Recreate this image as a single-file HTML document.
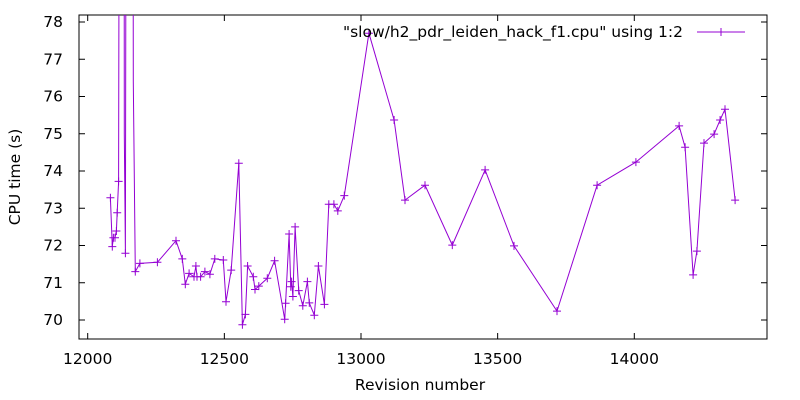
<!DOCTYPE html>
<html><head><meta charset="utf-8"><style>
body{margin:0;background:#fff;}
svg{display:block;font-family:"DejaVu Sans","Liberation Sans",sans-serif;}
</style></head><body>
<svg id="chart" width="800" height="400" viewBox="0 0 800 400" xmlns="http://www.w3.org/2000/svg">
<defs><clipPath id="plotclip"><rect x="79" y="15" width="688" height="324"/></clipPath></defs>
<rect x="79" y="15" width="688" height="324" fill="none" stroke="#000" stroke-width="1"/>
<g id="ticks"></g>
<g id="series" clip-path="url(#plotclip)"></g>
<text x="20" y="177" transform="rotate(-90 20 177)" text-anchor="middle" font-size="15.5">CPU time (s)</text>
<text x="420" y="390" text-anchor="middle" font-size="15.5">Revision number</text>
<g>
<text x="683" y="37" text-anchor="end" font-size="15.5">"slow/h2_pdr_leiden_hack_f1.cpu" using 1:2</text>
<line x1="697" y1="32" x2="745" y2="32" stroke="#9400d3" stroke-width="1"/>
<path d="M717 32h8M721 28v8" stroke="#9400d3" stroke-width="1"/>
</g>
</svg>
<script>
const revisions=[12083,12090,12094,12100,12105,12108,12113,12117,12133,12134,12138,12142,12165,12167,12174,12191,12255,12323,12346,12357,12371,12389,12396,12400,12413,12429,12447,12465,12496,12506,12525,12553,12566,12577,12585,12606,12612,12626,12657,12684,12721,12724,12737,12743,12746,12751,12759,12772,12787,12804,12811,12829,12844,12866,12882,12901,12915,12939,13029,13121,13161,13234,13334,13454,13560,13717,13864,14006,14164,14186,14215,14229,14255,14292,14314,14332,14369];
const cpuTimes=[73.28,71.97,72.21,72.21,72.39,72.88,73.72,90,90,75.0,71.79,90,90,76.4,71.3,71.52,71.55,72.13,71.64,70.96,71.25,71.16,71.45,71.16,71.16,71.30,71.23,71.64,71.61,70.49,71.34,74.21,69.87,70.15,71.45,71.16,70.82,70.91,71.12,71.59,70.02,70.45,72.31,70.89,71.03,70.63,72.50,70.79,70.38,71.03,70.46,70.13,71.45,70.42,73.11,73.11,72.93,73.34,77.7,75.37,73.22,73.62,72.01,74.03,71.99,70.24,73.62,74.24,75.21,74.64,71.21,71.85,74.75,74.99,75.37,75.66,73.22];
const markerless=[7,8,9,11,12,13];
const xTicks=[12000,12500,13000,13500,14000];
const yTicks=[70,71,72,73,74,75,76,77,78];
const NS="http://www.w3.org/2000/svg";
const X0=79,X1=767,Y0=15,Y1=339;
function xs(v){return 87.7+(v-12000)*0.2733;}
function ys(v){return 320-(v-70)*37.25;}
const tg=document.getElementById('ticks');
function mk(tag,attrs,parent){const e=document.createElementNS(NS,tag);for(const k in attrs)e.setAttribute(k,attrs[k]);parent.appendChild(e);return e;}
xTicks.forEach(t=>{
  const x=xs(t);
  const l=mk('path',{d:`M${x} ${Y1}v-6M${x} ${Y0}v6`,stroke:'#000','stroke-width':1},tg);
  
  
  const tx=mk('text',{x:x,y:364,'text-anchor':'middle','font-size':15.5},tg);
  
  
  tx.textContent=t;
});
yTicks.forEach(t=>{
  const y=ys(t);
  const l=mk('path',{d:`M${X0} ${y}h6M${X1} ${y}h-6`,stroke:'#000','stroke-width':1},tg);
  
  
  const tx=mk('text',{x:63,y:y+5,'text-anchor':'end','font-size':15.5},tg);
  
  
  tx.textContent=t;
});
const sg=document.getElementById('series');
const pts=revisions.map((r,i)=>[xs(r),ys(cpuTimes[i])]);
const line=mk('polyline',{points:pts.map(p=>p[0].toFixed(1)+','+p[1].toFixed(1)).join(' '),fill:'none',stroke:'#9400d3','stroke-width':1},sg);


let d='';
pts.forEach((p,i)=>{if(markerless.includes(i))return;d+=`M${(p[0]-4).toFixed(1)} ${p[1].toFixed(1)}h8M${p[0].toFixed(1)} ${(p[1]-4).toFixed(1)}v8`;});
const m=mk('path',{d:d,stroke:'#9400d3','stroke-width':1,fill:'none'},sg);


</script>
</body></html>
